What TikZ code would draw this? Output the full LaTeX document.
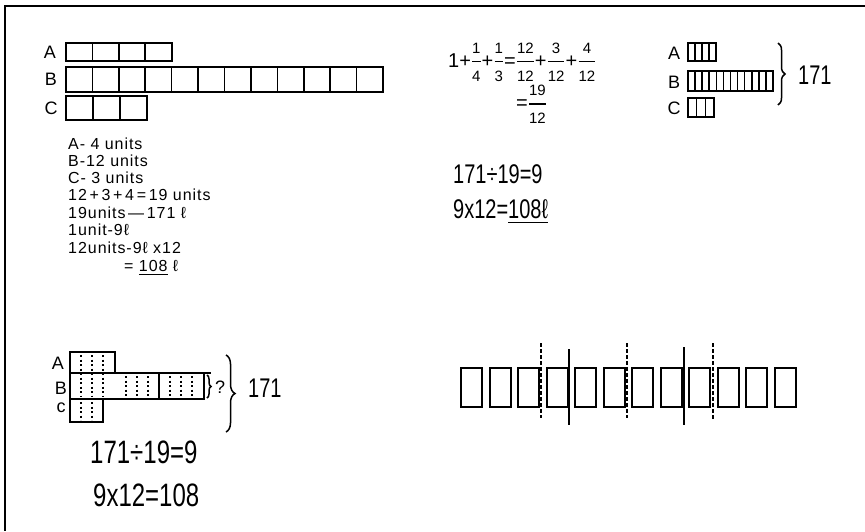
\documentclass[tikz,border=0pt]{standalone}
\usepackage{amsmath}
\usepackage{fontspec}
\setmainfont{Liberation Sans}
\usetikzlibrary{decorations.pathreplacing, calc}

\newcommand{\hfrac}[2]{$\genfrac{}{}{1.1pt}{0}{\mbox{\fontsize{15}{15}\selectfont #1}}{\mbox{\fontsize{15}{15}\selectfont #2}}$}

\begin{document}
\begin{tikzpicture}[
  x=1pt, y=-1pt,
  font=\fontsize{18}{20}\selectfont,
  hand/.style={inner sep=0pt, anchor=west},
  note/.style={hand, font=\fontsize{16}{17}\selectfont\addfontfeatures{LetterSpace=6}},
  big/.style={hand, font=\fontsize{#1}{#1}\selectfont, yscale=1.35},
  lbl/.style={inner sep=0pt},
  pen/.style={line width=1.6pt},
  box/.style={line width=2pt},
  dots/.style={line width=1.4pt, dash pattern=on 2pt off 2.5pt},
  cut/.style={line width=1.6pt, dash pattern=on 4pt off 2pt},
  brc/.style={line width=1.5pt, decorate, decoration={brace, amplitude=#1}}
]
  \useasboundingbox (0,0) rectangle (865,531);
  \draw[line width=1.5pt] (865,6) -- (5,6) -- (5,531);

  \draw[pen] (66,43) rectangle (171.7,61);
  \foreach \i in {1,2,3} \draw[pen] (66+26.42*\i,43) -- (66+26.42*\i,61);
  \draw[pen] (66,67) rectangle (383,92);
  \foreach \i in {1,...,11} \draw[pen] (66+26.42*\i,67) -- (66+26.42*\i,92);
  \draw[pen] (66,96) rectangle (147,120);
  \foreach \i in {1,2} \draw[pen] (66+27*\i,96) -- (66+27*\i,120);
  \node[lbl] (tA) at (50,52) {A};
  \node[lbl] (tB) at (51,79) {B};
  \node[lbl] (tC) at (51,108) {C};

  \node[note] (u1) at (68,144) {A- 4 units};
  \node[note] (u2) at (68,161) {B-12 units};
  \node[note] (u3) at (68,178) {C- 3 units};
  \node[note] (u4) at (68,195) {12\,+\,3\,+\,4\,=\,19 units};
  \node[note] (u5) at (68,213) {19units\,---\,171 ℓ};
  \node[note] (u6) at (68,230) {1unit-9ℓ};
  \node[note] (u7) at (68,248) {12units-9ℓ x12};
  \node[note] (u8) at (124,268) {= \underline{108} ℓ};

  \node[hand, font=\fontsize{20}{22}\selectfont] (sum) at (448,62)
    {1+\hfrac{1}{4}+\hfrac{1}{3}=\hfrac{12}{12}+\hfrac{3}{12}+\hfrac{4}{12}};
  \node[hand, font=\fontsize{20}{22}\selectfont] (tot) at (516,104) {=\hfrac{19}{12}};
  \node[big=20] (div1) at (453,174) {171÷19=9};
  \node[big=20] (mul1) at (453,212) {9x12=\underline{108ℓ}};

  \draw[pen] (688,43) rectangle (716,61);
  \foreach \i in {1,2,3} \draw[pen] (688+7*\i,43) -- (688+7*\i,61);
  \draw[pen] (688,71) rectangle (773,91);
  \foreach \i in {1,...,11} \draw[pen] (688+7.08*\i,71) -- (688+7.08*\i,91);
  \draw[pen] (688,98) rectangle (714,117);
  \foreach \i in {1,2} \draw[pen] (688+8.67*\i,98) -- (688+8.67*\i,117);
  \node[lbl] (sA) at (674,53) {A};
  \node[lbl] (sB) at (674,82) {B};
  \node[lbl] (sC) at (674,108) {C};
  \coordinate (s1) at (778,43);
  \coordinate (s2) at (778,105);
  \draw[brc=7pt] (s1) -- (s2);
  \node[big=20] (stot) at (798,75) {171};

  \draw[pen] (70,352) rectangle (115,373);
  \draw[pen] (70,373) rectangle (204,399);
  \draw[pen] (204,373) -- (211,373);
  \draw[pen] (70,399) rectangle (103,422);
  \draw[pen] (159,373) -- (159,399);
  \foreach \x in {81,92,103} \draw[dots] (\x,355) -- (\x,397);
  \foreach \x in {81,92} \draw[dots] (\x,402) -- (\x,420);
  \foreach \x in {126,137,148,170,181,192} \draw[dots] (\x,376) -- (\x,397);
  \node[lbl] (bA) at (58,363) {A};
  \node[lbl] (bB) at (61,388) {B};
  \node[lbl] (bC) at (61,408) {c};
  \coordinate (q1) at (207,375);
  \coordinate (q2) at (207,398);
  \draw[brc=4pt] (q1) -- (q2);
  \node[hand] (qm) at (215,387) {?};
  \coordinate (r1) at (226,355);
  \coordinate (r2) at (226,432);
  \draw[brc=9pt] (r1) -- (r2);
  \node[big=20] (btot) at (248,388) {171};
  \node[big=24] (div2) at (90,452) {171÷19=9};
  \node[big=24] (mul2) at (93,495) {9x12=108};

  \foreach \i in {0,...,11} \draw[box] (461+28.5*\i,368) rectangle (482+28.5*\i,407);
  \draw[cut] (541,343) -- (541,418);
  \draw[pen] (569,349) -- (569,425);
  \draw[cut] (627,343) -- (627,418);
  \draw[pen] (684,347) -- (684,425);
  \draw[cut, line width=2.4pt] (713,343) -- (713,420);
\end{tikzpicture}
\end{document}
